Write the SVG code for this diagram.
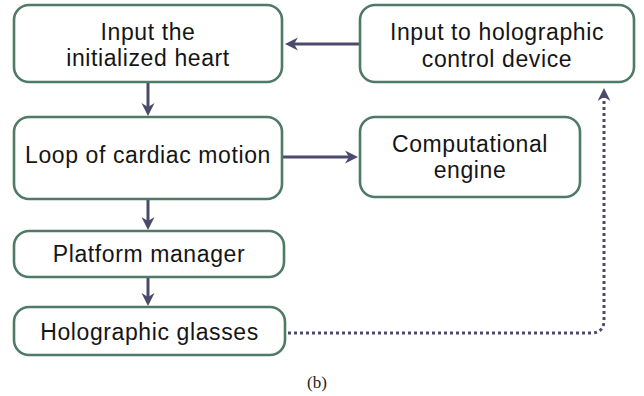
<svg xmlns="http://www.w3.org/2000/svg" width="644" height="396" viewBox="0 0 644 396">
  <style>
    .box { fill: #ffffff; stroke: #4e7a66; stroke-width: 2.6; }
    .lbl { font-family: "Liberation Sans", Arial, Helvetica, sans-serif; font-size: 23px; letter-spacing: 0.6px; fill: #151515; text-anchor: middle; }
    .edge { fill: none; stroke: #4a4b6c; stroke-width: 3; }
    .dotted { stroke-dasharray: 3 3; }
    .cap { font-family: "Liberation Serif", "Times New Roman", serif; font-size: 17px; fill: #222222; text-anchor: middle; }
  </style>
  <defs>
    <marker id="head" viewBox="-5 -7 15 14" refX="0" refY="0" markerWidth="15" markerHeight="14" markerUnits="userSpaceOnUse" orient="auto">
      <path d="M9,0 L-4,-6.5 L0,0 L-4,6.5 Z" fill="#4a4b6c"/>
    </marker>
  </defs>
  <rect width="644" height="396" fill="#ffffff"/>

  <g id="connectors">
    <path class="edge" d="M148,82 V107" marker-end="url(#head)"/>
    <path class="edge" d="M148,199 V221" marker-end="url(#head)"/>
    <path class="edge" d="M148,277 V297" marker-end="url(#head)"/>
    <path class="edge" d="M360,44 H294" marker-end="url(#head)"/>
    <path class="edge" d="M282,157 H349" marker-end="url(#head)"/>
    <path class="edge dotted" d="M288,333 H591 Q604,333 604,320 V97" marker-end="url(#head)"/>
  </g>

  <g id="node-initial-heart">
    <rect class="box" x="14" y="5" width="268" height="77" rx="15"/>
    <text class="lbl" x="148" y="39.5">Input the</text>
    <text class="lbl" x="148" y="66">initialized heart</text>
  </g>

  <g id="node-holographic-control">
    <rect class="box" x="360" y="5" width="274" height="77" rx="15"/>
    <text class="lbl" x="497" y="40">Input to holographic</text>
    <text class="lbl" x="497" y="66.5">control device</text>
  </g>

  <g id="node-cardiac-loop">
    <rect class="box" x="14" y="117" width="268" height="82" rx="15"/>
    <text class="lbl" x="148" y="163">Loop of cardiac motion</text>
  </g>

  <g id="node-computational-engine">
    <rect class="box" x="360" y="117" width="220" height="80" rx="15"/>
    <text class="lbl" x="470" y="152">Computational</text>
    <text class="lbl" x="470" y="178">engine</text>
  </g>

  <g id="node-platform-manager">
    <rect class="box" x="14" y="231" width="270" height="46" rx="15"/>
    <text class="lbl" x="149" y="262">Platform manager</text>
  </g>

  <g id="node-holographic-glasses">
    <rect class="box" x="14" y="307" width="271" height="48" rx="15"/>
    <text class="lbl" x="149.5" y="339.5">Holographic glasses</text>
  </g>

  <text class="cap" x="317" y="388">(b)</text>
</svg>
